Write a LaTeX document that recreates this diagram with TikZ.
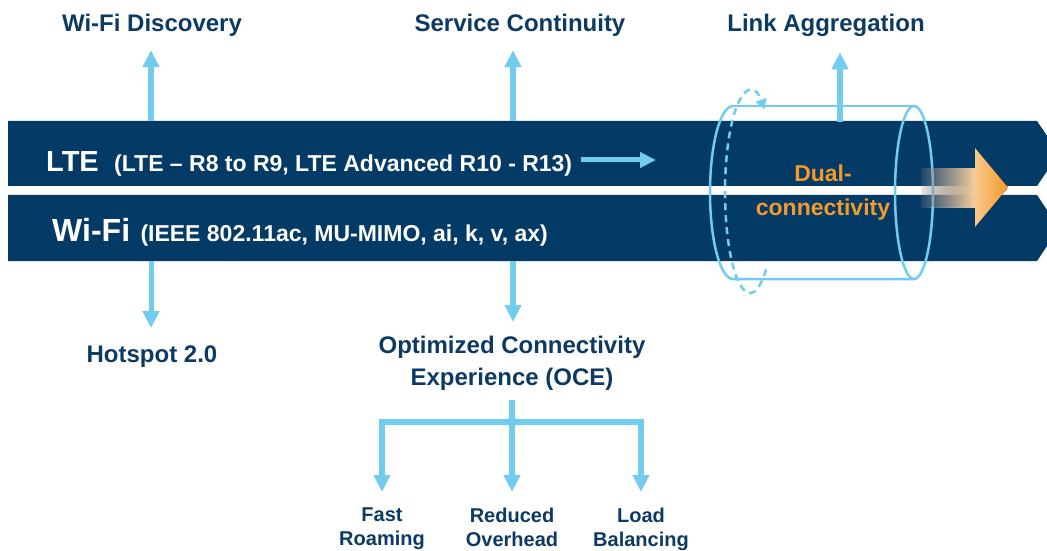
\documentclass[tikz,border=0pt]{standalone}
\usepackage{fontspec}
\setmainfont{Liberation Sans}
\usetikzlibrary{arrows.meta,positioning,fadings}

\definecolor{bandnavy}{HTML}{043A66}
\definecolor{labelnavy}{HTML}{0D3A62}
\definecolor{linkblue}{HTML}{72CCEE}
\definecolor{dualorange}{HTML}{F39A2C}

\tikzfading[name=fadein, left color=transparent!90, right color=transparent!0]

\begin{document}
\begin{tikzpicture}[x=1pt,y=1pt,
    band/.style={fill=bandnavy},
    bandtitle/.style={text=white,inner sep=0pt,font=\bfseries\fontsize{29}{32}\selectfont},
    bandnote/.style={text=white,inner sep=0pt,font=\bfseries\fontsize{23}{26}\selectfont},
    heading/.style={text=labelnavy,inner sep=0pt,align=center,font=\bfseries\fontsize{24}{32}\selectfont},
    leaf/.style={text=labelnavy,inner sep=0pt,align=center,font=\bfseries\fontsize{20}{24}\selectfont},
    dual/.style={text=dualorange,inner sep=0pt,align=center,font=\bfseries\fontsize{23}{34}\selectfont},
    link/.style={draw=linkblue,line width=6pt,-{Triangle[width=16pt,length=17pt]}},
    tube/.style={draw=linkblue,line width=2.5pt}]
    \useasboundingbox (0,0) rectangle (1047,550);
    \clip (0,0) rectangle (1047,550);
    %% Bands
    \fill[band] (8,364) -- (8,429) -- (1037,429) -- (1059,396.5) -- (1037,364) -- cycle;
    \fill[band] (8,289) -- (8,355) -- (1037,355) -- (1059,322) -- (1037,289) -- cycle;
    \node[bandtitle,anchor=base west] (lte) at (46,378) {LTE};
    \node[bandnote,anchor=base west] (ltenote) at ([xshift=15pt]lte.base east) {(LTE – R8 to R9, LTE Advanced R10 - R13)};
    \node[bandtitle,font=\bfseries\fontsize{32}{34}\selectfont,anchor=base west] (wifi) at (52,309) {Wi-Fi};
    \node[bandnote,anchor=base west] (wifinote) at ([xshift=10pt]wifi.base east) {(IEEE 802.11ac, MU-MIMO, ai, k, v, ax)};
    \coordinate (ltetip) at (656,390);
    \draw[link,line width=5pt,-{Triangle[width=15pt,length=16pt]}] ([xshift=9pt]ltenote.east |- ltetip) -- (ltetip);
    %% Cylinder
    \draw[tube] (733,444) arc[start angle=90,end angle=270,x radius=23,y radius=86.5] -- (914,271);
    \draw[tube] (733,444) -- (914,444);
    \draw[tube] (914,357.5) ellipse [x radius=19,y radius=86.5];
    \draw[tube,dash pattern=on 7pt off 5pt,-{Triangle[width=11pt,length=10pt]}] (766.1,280.6) arc[start angle=310,end angle=55,x radius=25,y radius=101];
    \node[dual,anchor=north] (dualtext) at (823,385) {Dual-\\connectivity};
    %% Orange arrow
    \fill[left color=white,right color=dualorange!45!white,path fading=fadein] (921,343) rectangle (976,382);
    \fill[left color=dualorange!55!white,right color=dualorange] (975,323) -- (1008,362.5) -- (975,402) -- cycle;
    %% Labels
    \node[heading,anchor=base] (disc) at (152,518) {Wi-Fi Discovery};
    \node[heading,anchor=base] (cont) at (520,518) {Service Continuity};
    \node[heading,anchor=base] (aggr) at (826,518) {Link Aggregation};
    \node[heading,anchor=base] (hot) at (152,188) {Hotspot 2.0};
    \node[heading,anchor=north] (oce) at (512,214) {Optimized Connectivity\\Experience (OCE)};
    \node[leaf,anchor=north] (roam) at (382,42) {Fast\\Roaming};
    \node[leaf,anchor=north] (over) at (512,42) {Reduced\\Overhead};
    \node[leaf,anchor=north] (load) at (641,42) {Load\\Balancing};
    %% Arrows
    \coordinate (discfoot) at (151,429);
    \coordinate (contfoot) at (513,429);
    \coordinate (aggrfoot) at (840,428);
    \coordinate (hotfoot) at (151,289);
    \coordinate (ocefoot) at (513,289);
    \coordinate (fork) at (512,128);
    \draw[link] (discfoot) -- ([yshift=-13pt]disc.south -| discfoot);
    \draw[link] (contfoot) -- ([yshift=-13pt]cont.south -| contfoot);
    \draw[link] (aggrfoot) -- ([yshift=-15pt]aggr.south -| aggrfoot);
    \draw[link,line width=5pt] (hotfoot) -- ([yshift=17pt]hot.north -| hotfoot);
    \draw[link] (ocefoot) -- ([yshift=14pt]oce.north -| ocefoot);
    \draw[link] ([yshift=-9pt]oce.south -| fork) -- ([yshift=16pt]over.north);
    \draw[link,line join=miter,{Triangle[width=16pt,length=17pt]}-{Triangle[width=16pt,length=17pt]}] ([yshift=16pt]roam.north) -- (fork -| roam) -- (fork -| load) -- ([yshift=16pt]load.north);
\end{tikzpicture}
\end{document}
